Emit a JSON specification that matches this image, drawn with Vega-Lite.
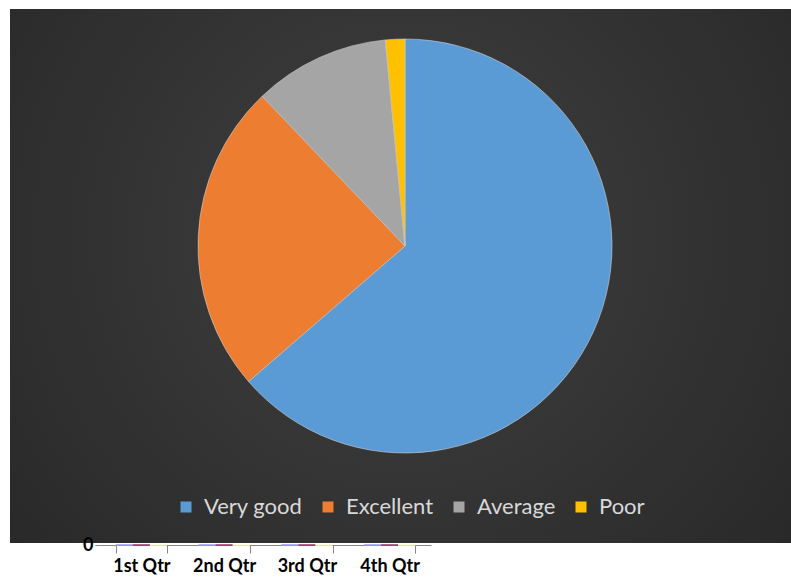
{
  "$schema": "https://vega.github.io/schema/vega-lite/v6.json",
  "padding": {"left": 10, "top": 9, "right": 0, "bottom": 0},
  "background": "white",
  "spacing": -7,
  "config": {"view": {"stroke": null}, "font": "Lato"},
  "vconcat": [
    {
      "width": 781,
      "height": 534,
      "view": {
        "stroke": null,
        "fill": {
          "gradient": "radial",
          "x1": 0.5, "y1": 0.45, "r1": 0,
          "x2": 0.5, "y2": 0.45, "r2": 0.75,
          "stops": [
            {"offset": 0, "color": "#404040"},
            {"offset": 1, "color": "#252525"}
          ]
        }
      },
      "data": {
        "values": [
          {"rating": "Very good", "count": 42},
          {"rating": "Excellent", "count": 16},
          {"rating": "Average", "count": 7},
          {"rating": "Poor", "count": 1}
        ]
      },
      "transform": [
        {"calculate": "indexof(['Very good','Excellent','Average','Poor'], datum.rating)", "as": "ord"}
      ],
      "mark": {
        "type": "arc",
        "outerRadius": 207,
        "xOffset": 4.5,
        "yOffset": -30,
        "stroke": "#cfcfcf",
        "strokeWidth": 0.6
      },
      "encoding": {
        "theta": {"field": "count", "type": "quantitative", "stack": true},
        "order": {"field": "ord", "type": "quantitative"},
        "color": {
          "field": "rating",
          "type": "nominal",
          "sort": ["Very good", "Excellent", "Average", "Poor"],
          "scale": {
            "domain": ["Very good", "Excellent", "Average", "Poor"],
            "range": ["#5B9BD5", "#ED7D31", "#A5A5A5", "#FFC000"]
          },
          "legend": {
            "title": null,
            "orient": "none",
            "legendX": 165,
            "legendY": 487,
            "direction": "horizontal",
            "symbolType": "square",
            "symbolSize": 121,
            "symbolStrokeWidth": 0,
            "labelColor": "#d9d9d9",
            "labelFont": "Lato",
            "labelFontSize": 22,
            "labelOffset": 7,
            "columnPadding": 14
          }
        }
      }
    },
    {
      "spacing": 0,
      "hconcat": [
        {
          "width": 72,
          "height": 1,
          "data": {"values": []},
          "mark": "point"
        },
        {
          "width": 331,
          "height": 1,
          "data": {
            "values": [
              {"quarter": "1st Qtr", "series": "Series 1", "value": 0},
              {"quarter": "1st Qtr", "series": "Series 2", "value": 0},
              {"quarter": "1st Qtr", "series": "Series 3", "value": 0},
              {"quarter": "2nd Qtr", "series": "Series 1", "value": 0},
              {"quarter": "2nd Qtr", "series": "Series 2", "value": 0},
              {"quarter": "2nd Qtr", "series": "Series 3", "value": 0},
              {"quarter": "3rd Qtr", "series": "Series 1", "value": 0},
              {"quarter": "3rd Qtr", "series": "Series 2", "value": 0},
              {"quarter": "3rd Qtr", "series": "Series 3", "value": 0},
              {"quarter": "4th Qtr", "series": "Series 1", "value": 0},
              {"quarter": "4th Qtr", "series": "Series 2", "value": 0},
              {"quarter": "4th Qtr", "series": "Series 3", "value": 0}
            ]
          },
          "mark": {"type": "bar", "strokeWidth": 1.5},
          "encoding": {
            "x": {
              "field": "quarter",
              "type": "nominal",
              "sort": null,
              "scale": {"paddingInner": 0.38, "paddingOuter": 0.19},
              "axis": {
                "title": null,
                "labelAngle": 0,
                "labelFont": "Lato",
                "labelFontWeight": "bold",
                "labelFontSize": 18,
                "labelColor": "#000000",
                "domainColor": "#868686",
                "tickColor": "#868686",
                "tickBand": "extent",
                "tickSize": 8,
                "labelPadding": 4
              }
            },
            "xOffset": {"field": "series", "type": "nominal"},
            "y": {
              "field": "value",
              "type": "quantitative",
              "scale": {"domain": [0, 1]},
              "axis": {
                "title": null,
                "values": [0],
                "grid": false,
                "domain": false,
                "labelFont": "Lato",
                "labelFontWeight": "bold",
                "labelFontSize": 18,
                "labelColor": "#000000",
                "tickColor": "#868686",
                "tickSize": 5,
                "labelPadding": 2
              }
            },
            "color": {
              "field": "series",
              "type": "nominal",
              "scale": {"range": ["#9999FF", "#993366", "#FFFFCC"]},
              "legend": null
            },
            "stroke": {
              "field": "series",
              "type": "nominal",
              "scale": {"range": ["#9999FF", "#993366", "#FFFFCC"]},
              "legend": null
            }
          }
        }
      ]
    }
  ]
}
